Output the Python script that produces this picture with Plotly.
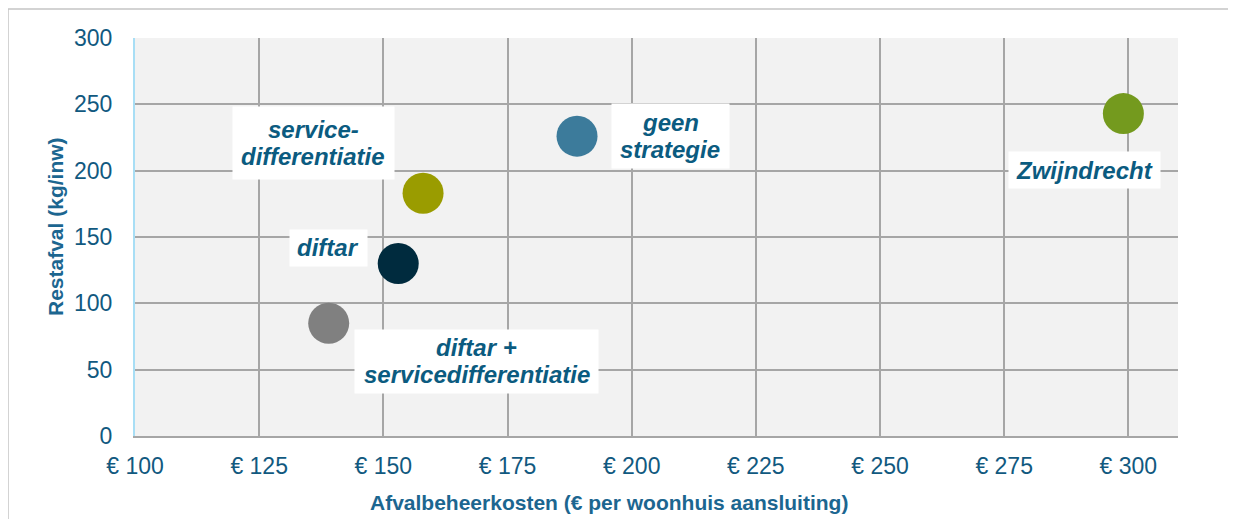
import plotly.graph_objects as go

# ---- data ----
strategies = ["diftar + servicedifferentiatie", "diftar", "service-differentiatie", "geen strategie", "Zwijndrecht"]
kosten = [139, 153, 158, 189, 299]          # € per woonhuis aansluiting
restafval = [85, 130, 183, 226, 243]        # kg/inw
colors = ["#808080", "#002b3e", "#9a9c00", "#3c7b9b", "#749a1e"]

label_lines = [["diftar +", "servicedifferentiatie"], ["diftar"], ["service-", "differentiatie"],
               ["geen", "strategie"], ["Zwijndrecht"]]
label_x = [168.8, 138.9, 135.9, 207.8, 291.2]
label_y = [56.5, 141.9, 221.2, 226.1, 200.5]
label_box_w = [243, 77, 161, 117, 151]
label_box_h = [63, 36, 72, 64, 36]

x_tickvals = [100, 125, 150, 175, 200, 225, 250, 275, 300]
x_ticktext = ["€ 100", "€ 125", "€ 150", "€ 175", "€ 200", "€ 225", "€ 250", "€ 275", "€ 300"]
y_tickvals = [0, 50, 100, 150, 200, 250, 300]

x_title = "Afvalbeheerkosten (€ per woonhuis aansluiting)"
y_title = "Restafval (kg/inw)"

# page offset (browser body margin)
OFF = 8
PW, PH = 1236, 519
W, H = PW - OFF, PH - OFF
# plot area in page pixels
PX0, PX1, PY0, PY1 = 135, 1178, 38, 436
L, R, T, B = PX0 - OFF, W - (PX1 - OFF), PY0 - OFF, H - (PY1 - OFF)
pw, ph = PX1 - PX0, PY1 - PY0


def px2paper_x(px):
    return (px - PX0) / pw


def px2paper_y(py):
    return (PY1 - py) / ph


FONT = "Liberation Sans, Arial, sans-serif"
TICKCOL = "#11597f"
LABCOL = "#0b5b80"
TITLECOL = "#1c6690"

fig = go.Figure()
fig.add_trace(go.Scatter(
    x=kosten, y=restafval, mode="markers",
    marker=dict(size=41, color=colors, line=dict(width=0)),
    text=strategies, hoverinfo="text", showlegend=False,
))

annotations = []
LINE = 27
for lines, lx, ly, bw, bh in zip(label_lines, label_x, label_y, label_box_w, label_box_h):
    annotations.append(dict(
        x=lx, y=ly, xref="x", yref="y", text=" ", width=bw, height=bh,
        showarrow=False, bgcolor="white", borderpad=0,
        xanchor="center", yanchor="middle",
        font=dict(family=FONT, size=10, color="white"),
    ))
    n = len(lines)
    for i, ln in enumerate(lines):
        annotations.append(dict(
            x=lx, y=ly, xref="x", yref="y", text="<b><i>" + ln + "</i></b>",
            yshift=((n - 1) / 2 - i) * LINE, xanchor="center", yanchor="middle",
            showarrow=False, font=dict(family=FONT, size=24, color=LABCOL), align="center",
        ))

annotations.append(dict(
    x=px2paper_x(609), y=px2paper_y(502), xref="paper", yref="paper",
    xanchor="center", yanchor="middle",
    text="<b>" + x_title + "</b>", showarrow=False,
    font=dict(family=FONT, size=21, color=TITLECOL),
))
annotations.append(dict(
    x=px2paper_x(55), y=px2paper_y(227), xref="paper", yref="paper",
    xanchor="center", yanchor="middle",
    text="<b>" + y_title + "</b>", showarrow=False, textangle=-90,
    font=dict(family=FONT, size=21, color=TITLECOL),
))

shapes = [
    dict(type="line", xref="paper", yref="paper",
         x0=px2paper_x(OFF), x1=px2paper_x(PW + 20), y0=px2paper_y(9), y1=px2paper_y(9),
         line=dict(color="#c4c4c4", width=1.5)),
    dict(type="line", xref="paper", yref="paper",
         x0=px2paper_x(OFF), x1=px2paper_x(OFF), y0=px2paper_y(9), y1=px2paper_y(PH + 20),
         line=dict(color="#c4c4c4", width=1.5)),
]

fig.update_layout(
    width=W, height=H,
    margin=dict(l=L, r=R, t=T, b=B, pad=0, autoexpand=False),
    paper_bgcolor="white", plot_bgcolor="#f2f2f2",
    font=dict(family=FONT, size=23, color=TICKCOL),
    annotations=annotations, shapes=shapes,
    xaxis=dict(range=[100, 310], tickvals=x_tickvals, ticktext=x_ticktext,
               showgrid=True, gridcolor="#a6a6a6", gridwidth=2,
               showline=True, linecolor="#a6a6a6", linewidth=2,
               zeroline=False, ticks="outside", ticklen=8, tickcolor="rgba(0,0,0,0)",
               tickfont=dict(family=FONT, size=23, color=TICKCOL), fixedrange=True),
    yaxis=dict(range=[0, 300], tickvals=y_tickvals,
               showgrid=True, gridcolor="#a6a6a6", gridwidth=2,
               showline=True, linecolor="#a8def5", linewidth=2,
               zeroline=False, ticks="outside", ticklen=16, tickcolor="rgba(0,0,0,0)",
               tickfont=dict(family=FONT, size=23, color=TICKCOL), fixedrange=True),
)

fig.write_html("out.html")
